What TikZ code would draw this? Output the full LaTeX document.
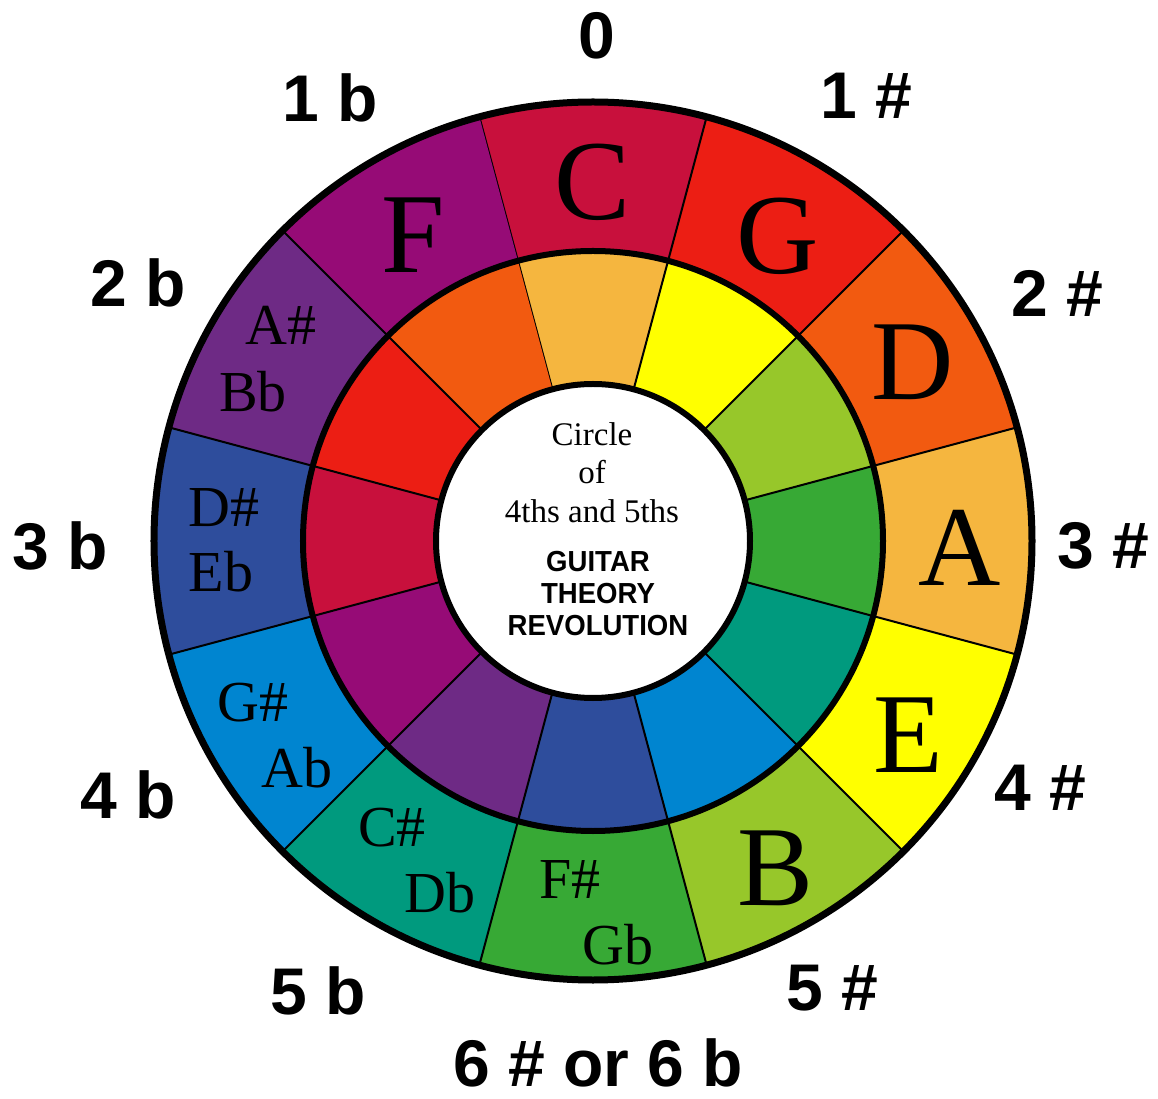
\documentclass[tikz,border=0pt]{standalone}
\usepackage{fontspec}
\setmainfont{Liberation Serif}
\newfontfamily\countfont{Liberation Sans}
\usetikzlibrary{positioning}

\definecolor{keyC}{RGB}{200,16,60}
\definecolor{keyG}{RGB}{236,30,20}
\definecolor{keyD}{RGB}{242,90,16}
\definecolor{keyA}{RGB}{245,182,63}
\definecolor{keyE}{RGB}{255,255,0}
\definecolor{keyB}{RGB}{151,199,42}
\definecolor{keyFs}{RGB}{55,169,53}
\definecolor{keyCs}{RGB}{0,154,126}
\definecolor{keyGs}{RGB}{0,133,208}
\definecolor{keyDs}{RGB}{46,77,156}
\definecolor{keyAs}{RGB}{110,42,133}
\definecolor{keyF}{RGB}{150,11,118}

\begin{document}
\begin{tikzpicture}[x=1pt, y=1pt,
	note/.style={inner sep=0pt, font=\fontsize{114}{114}\selectfont},
	pair/.style={inner sep=0pt, font=\fontsize{58}{58}\selectfont},
	count/.style={inner sep=0pt, font=\countfont\bfseries\fontsize{66}{66}\selectfont},
	title/.style={inner sep=0pt, font=\fontsize{33}{33}\selectfont},
	brand/.style={inner sep=0pt, font=\countfont\bfseries\fontsize{29}{29}\selectfont}]
					
					\useasboundingbox (-593,-558) rectangle (565,541);
					
					% Sectors: outer ring (keys) and inner ring
					\foreach \k/\outc/\inc in {0/keyC/keyA, 1/keyG/keyE, 2/keyD/keyB, 3/keyA/keyFs,
						4/keyE/keyCs, 5/keyB/keyGs, 6/keyFs/keyDs, 7/keyCs/keyAs,
						8/keyGs/keyF, 9/keyDs/keyC, 10/keyAs/keyG, 11/keyF/keyD} {
						\pgfmathsetmacro{\aa}{105-30*\k}
						\pgfmathsetmacro{\ab}{75-30*\k}
						\fill[\outc] (\aa:290) -- (\aa:439) arc[start angle=\aa, end angle=\ab, radius=439]
							-- (\ab:290) arc[start angle=\ab, end angle=\aa, radius=290] -- cycle;
						\fill[\inc] (\aa:157) -- (\aa:290) arc[start angle=\aa, end angle=\ab, radius=290]
							-- (\ab:157) arc[start angle=\ab, end angle=\aa, radius=157] -- cycle;
						\draw[line width=2pt] (\aa:157) -- (\aa:439);
					}
					
					% Rings
					\fill[white] (0,0) circle[radius=157];
					\draw[line width=7pt] (0,0) circle[radius=439];
					\draw[line width=6pt] (0,0) circle[radius=290];
					\draw[line width=6pt] (0,0) circle[radius=157];
					
					% Keys in the outer ring
					\node[note] (nC) at (0,359) {C};
					\node[note] (nG) at (185,305) {G};
					\node[note] (nD) at (320,179) {D};
					\node[note] (nA) at (367,-7) {A};
					\node[note] (nE) at (315,-194) {E};
					\node[note] (nB) at (183,-327) {B};
					\node[note] (nF) at (-180,306) {F};
					
					% Enharmonic pairs
					\node[pair] (nAs) at (-312,216) {A\#};
					\node[pair] (nBb) at (-340,149) {Bb};
					\node[pair] (nDs) at (-369,33) {D\#};
					\node[pair] (nEb) at (-372,-31) {Eb};
					\node[pair] (nGs) at (-340,-162) {G\#};
					\node[pair] (nAb) at (-296,-227) {Ab};
					\node[pair] (nCs) at (-201,-287) {C\#};
					\node[pair] (nDb) at (-153,-352) {Db};
					\node[pair] (nFs) at (-23,-339) {F\#};
					\node[pair] (nGb) at (25,-404) {Gb};
					
					% Sharps and flats
					\node[count] (k0) at (4,505) {0};
					\node[count] (s1) at (273,445) {1 \#};
					\node[count] (s2) at (464,248) {2 \#};
					\node[count] (s3) at (510,-5) {3 \#};
					\node[count] (s4) at (447,-247) {4 \#};
					\node[count] (s5) at (239,-447) {5 \#};
					\node[count] (k6) at (5,-522) {6 \# or 6 b};
					\node[count] (f5) at (-275,-450) {5 b};
					\node[count] (f4) at (-465,-254) {4 b};
					\node[count] (f3) at (-533,-5) {3 b};
					\node[count] (f2) at (-455,258) {2 b};
					\node[count] (f1) at (-263,443) {1 b};
					
					% Centre
					\node[title] (t1) at (-1,107) {Circle};
					\node[title] (t2) at (-1,69) {of};
					\node[title] (t3) at (-1,30) {4ths and 5ths};
					\node[brand] (b1) at (5,-21) {\scalebox{0.95}[1]{GUITAR}};
					\node[brand] (b2) at (5,-53) {\scalebox{0.95}[1]{THEORY}};
					\node[brand] (b3) at (5,-85) {\scalebox{0.95}[1]{REVOLUTION}};
					
			\end{tikzpicture}
\end{document}
